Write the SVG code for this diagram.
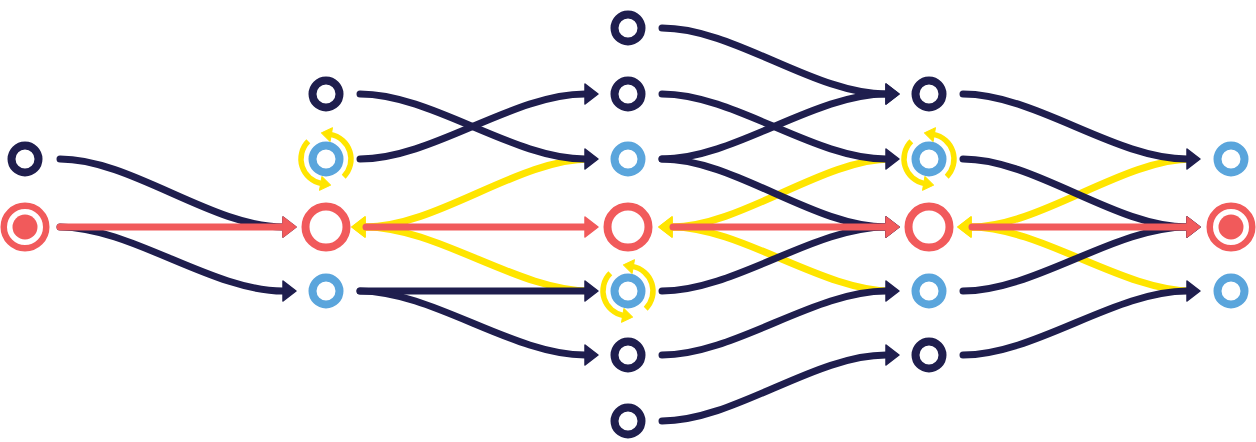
<svg xmlns="http://www.w3.org/2000/svg" width="1256" height="442" viewBox="0 0 1256 442">
<style>
.bg{fill:#ffffff}
.ln{fill:none;stroke-width:7;stroke-linecap:round}
.nv{stroke:#1f1e4e;marker-end:url(#an)}
.rd{stroke:#f15a5b;marker-end:url(#ar)}
.yl{stroke:#ffe500;marker-end:url(#ay)}
.dk{fill:#ffffff;stroke:#1f1e4e;stroke-width:8}
.bl{fill:#ffffff;stroke:#5aa5dc;stroke-width:8}
.rr{fill:#ffffff;stroke:#f15a5b;stroke-width:8}
.tg{fill:#ffffff;stroke:#f15a5b;stroke-width:6.5}
.dot{fill:#f15a5b}
.arc{fill:none;stroke:#ffe500;stroke-width:5.5;marker-end:url(#ya)}
</style>
<defs>
<marker id="an" markerUnits="userSpaceOnUse" orient="auto" overflow="visible" refX="0" refY="0" markerWidth="20" markerHeight="24"><path d="M0,-10 L13,0 L0,10 Z" fill="#1f1e4e" stroke="#1f1e4e" stroke-width="1.5" stroke-linejoin="round"/></marker>
<marker id="ar" markerUnits="userSpaceOnUse" orient="auto" overflow="visible" refX="0" refY="0" markerWidth="20" markerHeight="24"><path d="M0,-10 L13,0 L0,10 Z" fill="#f15a5b" stroke="#f15a5b" stroke-width="1.5" stroke-linejoin="round"/></marker>
<marker id="ay" markerUnits="userSpaceOnUse" orient="auto" overflow="visible" refX="0" refY="0" markerWidth="20" markerHeight="24"><path d="M0,-10 L13,0 L0,10 Z" fill="#ffe500" stroke="#ffe500" stroke-width="1.5" stroke-linejoin="round"/></marker>
<marker id="ya" markerUnits="userSpaceOnUse" orient="auto" overflow="visible" refX="0" refY="0" markerWidth="16" markerHeight="18"><path d="M-1,-7 L9,0 L-1,7 Z" fill="#ffe500" stroke="#ffe500" stroke-width="1" stroke-linejoin="round"/></marker>
</defs>
<rect class="bg" x="0" y="0" width="1256" height="442"/>
<g id="connectors">
  <g id="yellow-links">
    <path class="ln yl" d="M590,159 C518,159 437,227 365,227"/>
    <path class="ln yl" d="M590,291 C518,291 437,227 365,227"/>
    <path class="ln yl" d="M891,159 C823,159 740,227 672,227"/>
    <path class="ln yl" d="M891,291 C823,291 740,227 672,227"/>
    <path class="ln yl" d="M1192,159 C1123,159 1040,227 971,227"/>
    <path class="ln yl" d="M1192,291 C1123,291 1040,227 971,227"/>
  </g>
  <g id="navy-links">
    <path class="ln nv" d="M60,159 C131,159 212,227 283,227"/>
    <path class="ln nv" d="M60,227 C131,227 212,291 283,291"/>
    <path class="ln nv" d="M360,94 C432,94 513,159 585,159"/>
    <path class="ln nv" d="M360,159 C432,159 513,94 585,94"/>
    <path class="ln nv" d="M360,291 L585,291"/>
    <path class="ln nv" d="M360,291 C432,291 513,355 585,355"/>
    <path class="ln nv" d="M662,28 C734,28 814,94 886,94"/>
    <path class="ln nv" d="M662,94 C734,94 814,159 886,159"/>
    <path class="ln nv" d="M662,159 C734,159 814,94 886,94"/>
    <path class="ln nv" d="M662,159 C734,159 814,227 886,227"/>
    <path class="ln nv" d="M662,291 C734,291 814,227 886,227"/>
    <path class="ln nv" d="M662,355 C734,355 814,291 886,291"/>
    <path class="ln nv" d="M662,421 C734,421 814,355 886,355"/>
    <path class="ln nv" d="M963,94 C1035,94 1115,159 1187,159"/>
    <path class="ln nv" d="M963,159 C1035,159 1115,227 1187,227"/>
    <path class="ln nv" d="M963,291 C1035,291 1115,227 1187,227"/>
    <path class="ln nv" d="M963,355 C1035,355 1115,291 1187,291"/>
  </g>
  <g id="red-links">
    <path class="ln rd" d="M60,227 L283,227"/>
    <path class="ln rd" d="M366,227 L585,227"/>
    <path class="ln rd" d="M673,227 L886,227"/>
    <path class="ln rd" d="M972,227 L1187,227"/>
  </g>
</g>
<g id="c0-dark"><circle class="dk" cx="25" cy="159" r="13.5"/></g>
<g id="c0-target"><circle class="tg" cx="25" cy="227" r="21.25"/><circle class="dot" cx="25" cy="227" r="12.5"/></g>
<g id="c1-dark"><circle class="dk" cx="326" cy="94" r="13.5"/></g>
<g id="c1-blue-rot"><circle class="bl" cx="326" cy="159" r="13.5"/><path class="arc" d="M308.3,141.3 A25,25 0 0 0 321.7,183.6"/><path class="arc" d="M343.7,176.7 A25,25 0 0 0 330.3,134.4"/></g>
<g id="c1-red"><circle class="rr" cx="326" cy="227" r="20.5"/></g>
<g id="c1-blue"><circle class="bl" cx="326" cy="291" r="13.5"/></g>
<g id="c2-dark-top"><circle class="dk" cx="628" cy="28" r="13.5"/></g>
<g id="c2-dark"><circle class="dk" cx="628" cy="94" r="13.5"/></g>
<g id="c2-blue"><circle class="bl" cx="628" cy="159" r="13.5"/></g>
<g id="c2-red"><circle class="rr" cx="628" cy="227" r="20.5"/></g>
<g id="c2-blue-rot"><circle class="bl" cx="628" cy="291" r="13.5"/><path class="arc" d="M610.3,273.3 A25,25 0 0 0 623.7,315.6"/><path class="arc" d="M645.7,308.7 A25,25 0 0 0 632.3,266.4"/></g>
<g id="c2-dark-low"><circle class="dk" cx="628" cy="355" r="13.5"/></g>
<g id="c2-dark-bottom"><circle class="dk" cx="628" cy="421" r="13.5"/></g>
<g id="c3-dark"><circle class="dk" cx="929" cy="94" r="13.5"/></g>
<g id="c3-blue-rot"><circle class="bl" cx="929" cy="159" r="13.5"/><path class="arc" d="M911.3,141.3 A25,25 0 0 0 924.7,183.6"/><path class="arc" d="M946.7,176.7 A25,25 0 0 0 933.3,134.4"/></g>
<g id="c3-red"><circle class="rr" cx="929" cy="227" r="20.5"/></g>
<g id="c3-blue"><circle class="bl" cx="929" cy="291" r="13.5"/></g>
<g id="c3-dark-low"><circle class="dk" cx="929" cy="355" r="13.5"/></g>
<g id="c4-blue-top"><circle class="bl" cx="1231" cy="159" r="13.5"/></g>
<g id="c4-target"><circle class="tg" cx="1231" cy="227" r="21.25"/><circle class="dot" cx="1231" cy="227" r="12.5"/></g>
<g id="c4-blue-bottom"><circle class="bl" cx="1231" cy="291" r="13.5"/></g>
</svg>
